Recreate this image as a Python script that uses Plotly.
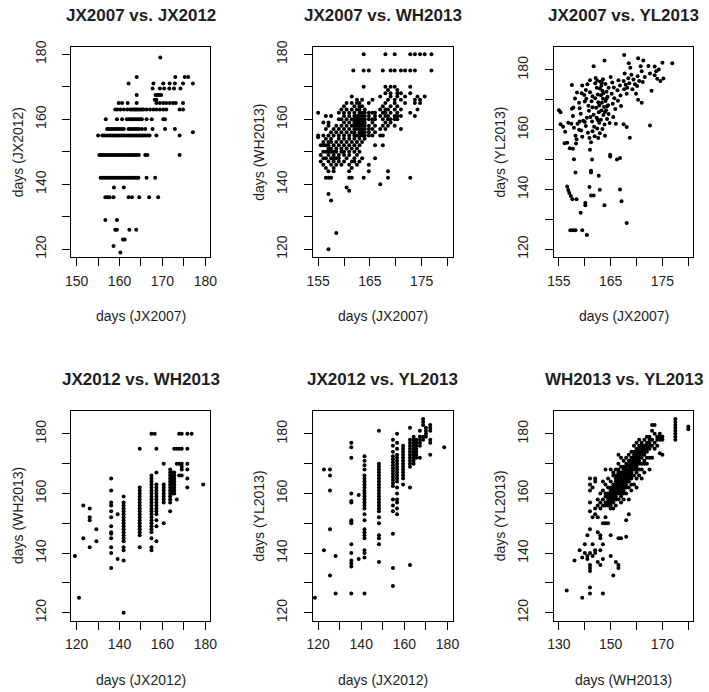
import plotly.graph_objects as go

# ---------------- data ----------------
# Panel 1: JX2007 (x) vs JX2012 (y) -- rows: (JX2012 value, [JX2007 values])
jx07_jx12_rows = [
    (179, [169.5]),
    (173, [164, 173, 175.2, 176]),
    (171, [162.1, 167.9, 170.2, 171.7, 172.9, 174.8, 177.1]),
    (169.5, [167.7, 169.4, 170.4, 171.6, 172.7, 174.2]),
    (167.5, [164, 168.4, 168.8, 169.2, 169.7]),
    (166, [168.2, 168.6]),
    (165, [159.8, 160.6, 161.9, 164, 168.6, 169.4, 170.2, 170.9, 171.7, 172.5, 173.1, 174.8]),
    (163, [159, 159.5, 160.2, 161, 161.8, 162.5, 162.9, 163.3, 163.7, 164, 164.4, 164.8, 165.2,
           165.6, 166.3, 167.1, 167.9, 168.6, 169.4, 170.2, 170.9, 174, 174.8]),
    (160, [156.8, 159.4, 160.6, 161.7, 162.2, 162.7, 163.1, 163.5, 164, 164.4, 164.8, 165.2,
           166.3, 167.5, 170.2, 170.6]),
    (157, [157.1, 157.5, 158, 158.5, 159, 159.5, 160, 160.5, 161, 162.1, 162.5, 163, 163.5,
           164, 164.5, 165.2, 166, 167.7, 170.6, 172.9]),
    (156, [177.1]),
    (155, [155, 156, 156.4, 157, 157.5, 158, 158.5, 159, 159.5, 160, 160.5, 161, 161.5, 162,
           162.5, 163, 163.5, 164, 164.5, 165, 165.5, 166, 166.5, 167, 168.6, 174]),
    (149, [155.3, 155.7, 156.1, 156.5, 157, 157.5, 158, 158.5, 159, 159.5, 160, 160.5, 161,
           161.5, 162, 162.5, 163, 163.5, 164, 164.5, 166, 166.5, 174]),
    (142, [155.6, 156, 156.5, 157, 157.5, 158, 158.5, 159, 159.5, 160, 160.5, 161, 161.5, 162,
           162.5, 163, 163.5, 164, 164.4, 166.3, 168.3]),
    (139, [158.7, 161]),
    (136, [156.7, 157.2, 157.7, 158.6, 162.1, 162.9, 164.6, 166.9, 169.0]),
    (129, [156.7, 159.4]),
    (126, [159, 159.4, 162.3, 163.9]),
    (123, [160.8, 161.2]),
    (121, [158.6]),
    (119, [160.2]),
]

# Panel 2: JX2007 (x) vs WH2013 (y) -- columns: (JX2007 value, [WH2013 values])
jx07_wh13_cols = [
    (155.0, [162, 155, 154.5]),
    (155.5, [149, 147, 152]),
    (156.0, [150, 146, 152, 148, 155, 159, 153]),
    (156.5, [145, 148, 150, 152, 154, 157, 161, 142]),
    (157.0, [147, 149, 150, 151, 152, 153, 155, 158, 159, 137, 142, 144, 120]),
    (157.5, [146, 148, 150, 151, 153, 154, 156, 161, 142, 135]),
    (158.0, [145, 147, 148, 149, 150, 152, 155, 157, 144]),
    (158.5, [146, 148, 150, 151, 153, 156, 158, 125]),
    (159.0, [147, 148, 149, 152, 154, 155, 157, 160, 162]),
    (159.5, [146, 150, 151, 153, 156, 158, 160, 163]),
    (160.0, [147, 149, 150, 152, 154, 155, 157, 159, 161, 162, 164]),
    (160.5, [148, 151, 153, 156, 158, 160, 163, 165, 139]),
    (161.0, [144, 146, 149, 150, 152, 154, 155, 157, 159, 161, 162, 142, 138]),
    (161.5, [145, 147, 151, 153, 156, 158, 160, 163, 165, 167, 142]),
    (161.8, [175]),
    (162.0, [147, 148, 150, 152, 154, 155, 156, 157, 158, 159, 160, 161, 162, 164]),
    (162.5, [146, 149, 151, 153, 155, 157, 158, 159, 160, 161, 163, 165, 166]),
    (163.0, [147, 150, 152, 154, 155, 156, 157, 158, 159, 160, 161, 162, 163, 164, 165]),
    (163.5, [148, 153, 155, 156, 157, 158, 159, 160, 161, 162, 164, 166]),
    (163.8, [180, 175, 170, 142]),
    (164.0, [154, 155, 156, 157, 158, 159, 160, 161, 162, 163]),
    (164.8, [155, 156, 157, 158, 160, 161, 162, 165, 175, 146, 144]),
    (165.5, [157, 159, 160, 162, 155, 166]),
    (166.0, [156, 158, 160, 161, 162, 152, 148]),
    (167.0, [155, 157, 161, 163, 167, 140]),
    (167.5, [152, 155, 158, 160, 162, 164, 175]),
    (168.0, [157, 159, 161, 162, 163, 165, 180, 168, 170]),
    (168.5, [158, 160, 161, 163, 166, 169, 142, 144]),
    (169.0, [159, 160, 162, 164, 167, 168, 170, 175]),
    (169.8, [158, 160, 161, 163, 165, 166, 170, 175, 180]),
    (170.3, [160, 161, 162, 164, 167, 168, 169]),
    (171.0, [161, 163, 166, 168, 157, 175]),
    (171.8, [165, 175, 167]),
    (172.8, [180, 175, 170, 168, 162, 142]),
    (173.7, [180, 175, 166, 165, 161]),
    (174.2, [163, 167]),
    (174.7, [180, 166, 165]),
    (175.6, [180, 167]),
    (176.9, [180, 175]),
]

# Panel 3: JX2007 (x) vs YL2013 (y) -- points
jx07_yl13_pts = [
    (155.0, 166.5), (155.3, 165.8), (155.3, 161.8), (155.8, 161), (156.2, 159.3), (156.1, 155.5),
    (156.6, 155.6), (157.1, 153.8), (157.7, 153.6), (157.5, 174.9), (157.5, 167), (157.7, 164.6),
    (157.4, 162), (157.9, 160.6), (158.2, 158), (158.4, 156.8), (158.6, 162), (158.9, 160),
    (159.3, 159.7), (159.5, 157.6), (158.3, 155.4), (158.1, 170.4), (158.9, 169), (159.2, 165.3),
    (159.7, 163), (159.4, 172.2), (159.9, 171.6), (160.2, 173.3), (160.3, 170.3), (160.7, 168),
    (160.8, 166.3), (160.4, 164), (160.2, 161.2), (160.6, 159), (160.9, 157.2), (161.2, 155.8),
    (161.0, 176.5), (161.3, 169.5), (161.5, 167.5), (161.7, 165), (161.4, 162.7), (161.8, 161),
    (161.5, 159.5), (161.9, 157.8), (161.7, 181.2), (162.1, 177.3), (162.3, 174), (162.5, 171.8),
    (162.0, 170.5), (162.6, 169.2), (162.2, 167.3), (162.7, 165.8), (162.3, 164), (162.8, 162.3),
    (162.4, 160.4), (162.9, 158.8), (162.6, 157.2), (163.0, 176), (163.2, 174.7), (163.4, 173),
    (163.1, 171.5), (163.5, 170.3), (163.3, 169), (163.7, 167.6), (163.2, 166.4), (163.6, 164.9),
    (163.1, 163.3), (163.8, 161.7), (163.4, 160.2), (163.9, 158), (163.5, 176.9), (164.0, 175.3),
    (164.2, 172.7), (164.4, 171), (164.0, 169.6), (164.5, 168.2), (164.1, 166.5), (164.6, 165.2),
    (164.3, 163.6), (164.8, 162.2), (163.8, 183.1), (165.0, 177.6), (165.3, 175.8), (165.6, 174.1),
    (165.2, 172), (165.7, 170.5), (165.4, 168.7), (165.9, 166.9), (165.5, 164.2), (166.0, 162),
    (166.5, 176.5), (166.8, 174.8), (166.3, 173.2), (166.9, 171.4), (166.4, 169.7), (167.0, 167.9),
    (167.5, 176.3), (167.9, 175), (167.6, 173.5), (168.1, 172), (167.7, 178.8), (168.4, 177.2),
    (168.6, 175.5), (168.2, 174), (167.6, 185), (168.8, 180.7), (168.5, 182.2), (169.0, 178.4),
    (169.4, 176.8), (169.7, 175.2), (169.2, 173.5), (169.9, 172), (170.2, 177.9), (170.5, 176.3),
    (170.1, 174.6), (170.3, 183.9), (170.8, 181.2), (171.3, 183.1), (171.0, 179.5), (171.6, 177.6),
    (171.2, 175.9), (172.3, 181.3), (172.6, 178.8), (173.5, 181.1), (173.8, 179.5), (173.5, 178.2),
    (174.0, 177), (174.3, 180.1), (174.6, 176.3), (175.0, 182.4), (175.2, 177.1), (176.9, 182.2),
    (172.9, 173), (172.6, 161.4), (168.7, 157.3), (167.5, 161.8), (168.1, 160.9), (170.3, 170),
    (171.0, 169), (159.0, 167.2), (160.0, 169.4), (161.0, 172.5), (162.0, 175.5), (162.8, 168.1),
    (163.6, 172.2), (164.2, 170.4), (162.9, 173.8), (163.3, 175.7), (164.6, 174), (162.4, 176.4),
    (161.5, 171.2), (160.5, 175.2), (159.5, 174.8), (158.5, 172.4), (157.8, 167.4), (163.9, 165.9),
    (164.3, 167.8), (162.5, 163.2), (161.1, 164.2), (160.0, 162.6), (159.0, 162.7), (156.8, 162.3),
    (157.9, 150.1), (158.2, 145.7), (156.6, 141), (156.8, 139.8), (157.0, 138.8), (157.3, 137.8),
    (157.6, 136.7), (158.4, 136.7), (159.2, 132.2), (157.2, 126.4), (157.7, 126.4), (158.2, 126.4),
    (159.5, 126.4), (160.4, 124.8), (160.1, 135.5), (160.1, 134.7), (161.0, 153.3), (161.4, 150),
    (161.2, 146.3), (161.2, 145.7), (160.9, 140.8), (161.7, 138), (161.2, 138), (162.7, 144.6),
    (162.9, 139.9), (163.8, 134.7), (164.9, 151.6), (164.9, 151), (166.2, 150), (166.8, 150.5),
    (166.8, 140), (167.1, 136.1), (168.1, 128.8),
]

# Panel 4: JX2012 (x) vs WH2013 (y) -- columns
jx12_wh13_cols = [
    (119.2, [139]),
    (121.1, [125]),
    (123.1, [156, 145]),
    (126.1, [155, 152, 151, 142]),
    (129.2, [148, 144]),
    (136.1, [165, 161, 157, 156, 154, 152, 149, 147, 146.5, 145, 142, 140, 135]),
    (139.1, [153, 138]),
    (141.9, [159, 157, 156, 155, 154, 153, 152, 151, 150, 149, 148, 147, 146, 145, 144, 142,
             141, 137.5, 120]),
    (149.4, [175, 162, 161, 160, 159, 158, 157, 156, 155, 154, 153, 152, 151, 150, 149, 148,
             147, 146, 142]),
    (154.9, [180, 166, 165, 164, 163, 162, 161, 160, 159, 158, 157, 156, 155, 154, 153, 152,
             151, 150, 149, 148, 147, 145, 142, 141]),
    (156.4, [180]),
    (157.2, [175, 167, 163, 162, 161, 160, 159, 158, 157, 156, 155, 154, 153, 151, 149, 144]),
    (160.6, [170, 163, 162, 161, 160, 159, 158, 157, 150]),
    (163.6, [168, 167, 166, 165, 164, 163, 162, 161, 160, 159, 158, 157, 154]),
    (164.7, [167, 166, 165, 164, 163, 162, 161, 160]),
    (165.5, [175, 167, 166, 165, 164, 163, 162, 161, 160]),
    (166.7, [175, 170, 158]),
    (167.8, [180, 175, 170, 166]),
    (169.0, [180, 175, 170, 169, 168, 166]),
    (171.6, [180, 175, 170, 168, 165, 162]),
    (173.6, [180]),
    (179.0, [163]),
]

# Panel 5: JX2012 (x) vs YL2013 (y) -- columns
jx12_yl13_cols = [
    (118.5, [125]),
    (122.7, [141, 168]),
    (125.5, [168, 166, 161, 148, 132.5]),
    (128.1, [139, 126.5]),
    (135.4, [177, 175.5, 172, 160, 157.5, 157, 151, 150.5, 150, 143, 140, 137.5, 136.5, 135.5, 126.5]),
    (138.8, [159.5, 138]),
    (141.5, [172.5, 171, 169.5, 168, 166, 165, 164, 163, 162, 161, 160, 159, 158, 157, 156, 155,
             153, 151, 148, 147, 146, 145, 141, 140, 138.5, 126.5]),
    (148.2, [181, 170, 169, 168, 167, 166, 165, 164, 163, 162, 161, 160, 159, 158, 157, 156, 155,
             154, 152, 150, 146, 145, 143, 137]),
    (154.7, [178, 176, 174, 172.5, 171.5, 170.5, 169.5, 168.5, 167.5, 166.5, 165.5, 164.5, 163.5,
             162.5, 158, 156, 154, 146.5, 135, 129]),
    (156.6, [180, 177, 175, 173, 172, 171, 170, 169, 168, 167, 166, 165, 164, 162, 160, 158, 157,
             155, 153]),
    (159.4, [176, 175, 174, 173, 172, 171, 170, 169, 168, 167, 166, 165, 163]),
    (162.6, [182, 178, 177, 176, 175, 174, 173, 172, 171, 170, 169, 162, 136]),
    (164.3, [179, 178, 177, 176, 175, 174, 173, 172, 171, 170]),
    (165.5, [178, 177, 176, 175, 174, 173, 172]),
    (167.2, [181, 179, 178, 177, 176, 172]),
    (168.7, [185, 184, 183, 179, 178]),
    (170.0, [182, 181, 180, 179]),
    (172.0, [183, 182, 181, 178, 177, 173]),
    (178.5, [175.5]),
]

# Panel 6: WH2013 (x) vs YL2013 (y) -- columns
wh13_yl13_cols = [
    (133, [127.5]), (136, [137.5]), (138, [141]), (139, [125, 138.5]), (140, [140, 143]),
    (141, [139, 138, 146]),
    (142, [165, 163, 161, 157, 154, 148, 140, 135, 136, 134, 128.5, 126.5]),
    (143, [162, 152, 143, 139]),
    (144, [165, 164, 155, 153, 141, 140]),
    (145, [158, 156, 152, 147, 137]),
    (146, [160, 157, 155, 146, 145, 141, 136]),
    (147, [164, 161, 158, 156, 150, 143, 138, 126.5]),
    (148, [168, 163, 160, 159, 157, 156, 152, 150]),
    (149, [165, 162, 160, 159, 158, 157, 156, 150]),
    (150, [168, 164, 162, 161, 160, 159, 158, 157, 156, 155, 146, 139]),
    (151, [167, 166, 163, 162, 161, 160, 159, 158, 157, 155, 132.5]),
    (152, [168, 166, 165, 164, 163, 162, 161, 160, 159, 158, 156, 137]),
    (153, [173, 170, 168, 167, 166, 165, 164, 163, 162, 161, 160, 158, 145, 135, 136]),
    (154, [172, 169, 167, 166, 165, 164, 163, 162, 161, 160, 159, 157, 145]),
    (155, [171, 169, 168, 167, 166, 165, 164, 163, 162, 161, 160, 158]),
    (156, [172, 170, 169, 168, 167, 166, 165, 164, 163, 162, 160, 145.5, 151]),
    (157, [173, 171, 170, 169, 168, 167, 166, 165, 164, 162, 158, 153]),
    (158, [174, 172, 171, 170, 169, 168, 167, 166, 165, 163, 161]),
    (159, [176, 174, 173, 172, 171, 170, 169, 168, 166, 163]),
    (160, [177, 175, 174, 173, 172, 171, 170, 169, 168, 167, 165, 162]),
    (161, [178, 176, 175, 174, 173, 172, 171, 170, 168, 166]),
    (162, [177, 176, 175, 174, 173, 172, 170, 168, 165]),
    (163, [178, 176, 175, 174, 173, 171, 170, 167]),
    (164, [179, 177, 176, 175, 174, 172, 170]),
    (165, [179, 178, 177, 176, 175, 172, 168]),
    (166, [183, 181, 178, 176, 172]),
    (167, [183, 180, 177, 175]),
    (168, [179, 178, 176]),
    (169, [180, 179, 178, 173.5]),
    (170, [179, 178, 173]),
    (175, [178, 179, 180, 181, 182, 183, 184, 185]),
    (180, [181.5, 182.5]),
]

titles = ["JX2007 vs. JX2012", "JX2007 vs. WH2013", "JX2007 vs. YL2013",
          "JX2012 vs. WH2013", "JX2012 vs. YL2013", "WH2013 vs. YL2013"]
xlabels = ["days (JX2007)", "days (JX2007)", "days (JX2007)",
           "days (JX2012)", "days (JX2012)", "days (WH2013)"]
ylabels = ["days (JX2012)", "days (WH2013)", "days (YL2013)",
           "days (WH2013)", "days (YL2013)", "days (YL2013)"]

# tick positions and labels (R omits labels that would overlap)
xticks = [[150, 155, 160, 165, 170, 175, 180], [155, 160, 165, 170, 175, 180],
          [155, 160, 165, 170, 175, 180], [120, 130, 140, 150, 160, 170, 180],
          [120, 130, 140, 150, 160, 170, 180], [130, 140, 150, 160, 170, 180]]
xticktext = [["150", "", "160", "", "170", "", "180"], ["155", "", "165", "", "175", ""],
             ["155", "", "165", "", "175", ""], ["120", "", "140", "", "160", "", "180"],
             ["120", "", "140", "", "160", "", "180"], ["130", "", "150", "", "170", ""]]
yticks = [[120, 130, 140, 150, 160, 170, 180]] * 6
yticktext = [["120", "", "140", "", "160", "", "180"]] * 6
xranges = [[148.8, 181.2], [154, 181], [154, 181], [117.6, 182.4], [117.6, 182.4], [128, 182]]
yranges = [[117.6, 182.4], [117.6, 182.4], [117.4, 187.8], [117.4, 187.8], [117.4, 187.8],
           [117.4, 187.8]]


def from_rows(rows):
    xs, ys = [], []
    for y, xl in rows:
        for x in xl:
            xs.append(x)
            ys.append(y)
    return xs, ys


def from_cols(cols):
    xs, ys = [], []
    for x, yl in cols:
        for y in yl:
            xs.append(x)
            ys.append(y)
    return xs, ys


panels = [
    from_rows(jx07_jx12_rows),
    from_cols(jx07_wh13_cols),
    ([p[0] for p in jx07_yl13_pts], [p[1] for p in jx07_yl13_pts]),
    from_cols(jx12_wh13_cols),
    from_cols(jx12_yl13_cols),
    from_cols(wh13_yl13_cols),
]

# ---------------- layout ----------------
W, H = 709, 692
col_px = [(66.7, 208.3), (312.7, 455.0), (558.0, 700.3)]
row_px = [(41.0, 254.0), (409.3, 621.7)]
FONT = "Liberation Sans, Arial, sans-serif"
TXT = "#1e1e1e"

fig = go.Figure()
annotations = []
layout_axes = {}

for i in range(6):
    r, c = divmod(i, 3)
    l, rr = col_px[c]
    t, b = row_px[r]
    ax = "" if i == 0 else str(i + 1)
    xs, ys = panels[i]
    fig.add_trace(go.Scatter(
        x=xs, y=ys, mode="markers", xaxis="x" + ax, yaxis="y" + ax,
        marker=dict(color="black", size=4, symbol="circle", line=dict(width=0)),
        showlegend=False, hoverinfo="x+y",
    ))
    common = dict(showline=True, mirror=True, linecolor="black", linewidth=1,
                  ticks="outside", ticklen=8, tickwidth=1, tickcolor="black",
                  showgrid=False, zeroline=False,
                  tickfont=dict(family=FONT, size=14, color=TXT))
    layout_axes["xaxis" + ax] = dict(
        common, domain=[l / W, rr / W], anchor="y" + ax, range=xranges[i],
        tickmode="array", tickvals=xticks[i], ticktext=xticktext[i], ticklabelstandoff=3)
    layout_axes["yaxis" + ax] = dict(
        common, domain=[1 - b / H, 1 - t / H], anchor="x" + ax, range=yranges[i],
        tickmode="array", tickvals=yticks[i], ticktext=yticktext[i], tickangle=-90,
        ticklabelstandoff=11)
    cx = (l + rr) / 2
    cy = (t + b) / 2
    title_y = 10 + r * 368.3
    xlab_y = 314 + r * 368.3
    annotations.append(dict(text="<b>" + titles[i] + "</b>", xref="paper", yref="paper",
                            x=cx / W, y=1 - title_y / H, xanchor="center", yanchor="middle",
                            showarrow=False, font=dict(family=FONT, size=17, color=TXT)))
    annotations.append(dict(text=xlabels[i], xref="paper", yref="paper",
                            x=cx / W, y=1 - xlab_y / H, xanchor="center", yanchor="middle",
                            showarrow=False, font=dict(family=FONT, size=14, color=TXT)))
    annotations.append(dict(text=ylabels[i], xref="paper", yref="paper",
                            x=(l - 55) / W, y=1 - cy / H, xanchor="center", yanchor="middle",
                            textangle=-90, showarrow=False,
                            font=dict(family=FONT, size=14, color=TXT)))

fig.update_layout(
    width=W, height=H, margin=dict(l=0, r=0, t=0, b=0),
    paper_bgcolor="white", plot_bgcolor="white",
    annotations=annotations, **layout_axes,
)

fig.write_html("out.html", config={"displayModeBar": False},
               post_script="document.body.style.margin='0';document.body.style.overflow='hidden';")
